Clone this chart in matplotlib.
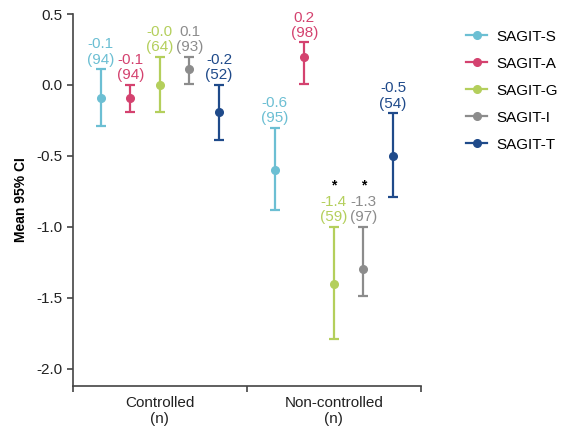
import matplotlib
matplotlib.use("Agg")
from matplotlib import pyplot as plt
from matplotlib.lines import Line2D
import numpy as np

plt.rcParams['font.family'] = ['Liberation Sans', 'DejaVu Sans']

# data
groups = ["Controlled\n(n)", "Non-controlled\n(n)"]
series = ["SAGIT-S", "SAGIT-A", "SAGIT-G", "SAGIT-I", "SAGIT-T"]
colors = ["#6cbfd3", "#d4426f", "#b4cf5c", "#8c8c8c", "#1f4a8a"]

means = [[-0.09, -0.60],
         [-0.09, 0.20],
         [0.00, -1.40],
         [0.11, -1.30],
         [-0.19, -0.50]]
ci_low = [[-0.29, -0.88],
          [-0.19, 0.01],
          [-0.19, -1.79],
          [0.01, -1.49],
          [-0.39, -0.79]]
ci_high = [[0.11, -0.30],
           [0.00, 0.30],
           [0.20, -1.00],
           [0.20, -1.00],
           [0.00, -0.20]]
mean_labels = [["-0.1", "-0.6"],
               ["-0.1", "0.2"],
               ["-0.0", "-1.4"],
               ["0.1", "-1.3"],
               ["-0.2", "-0.5"]]
n_labels = [["94", "95"],
            ["94", "98"],
            ["64", "59"],
            ["93", "97"],
            ["52", "54"]]
significant = [[False, False],
               [False, False],
               [False, True],
               [False, True],
               [False, False]]

offsets = [-0.34, -0.17, 0.0, 0.17, 0.34]

fig = plt.figure(figsize=(5.65, 4.38), dpi=100)
ax = fig.add_axes([0.129, 0.119, 0.616, 0.849])

x = np.arange(len(groups))
handles = []
for i, name in enumerate(series):
    m = np.array(means[i])
    lo = m - np.array(ci_low[i])
    hi = np.array(ci_high[i]) - m
    xs = x + offsets[i]
    ax.errorbar(xs, m, yerr=[lo, hi], fmt='o', color=colors[i], ms=5.5,
                elinewidth=1.6, capsize=3.5, capthick=1.6)
    handles.append(Line2D([], [], color=colors[i], marker='o', ms=5.5, lw=1.6))
    for j in range(len(groups)):
        ax.annotate(mean_labels[i][j] + "\n(" + n_labels[i][j] + ")",
                    (xs[j], ci_high[i][j]), xytext=(0, 2),
                    textcoords='offset points', ha='center', va='bottom',
                    fontsize=11, color=colors[i], linespacing=1.1)
        if significant[i][j]:
            ax.annotate("*", (xs[j], ci_high[i][j]), xytext=(0, 27),
                        textcoords='offset points', ha='center', va='baseline',
                        fontsize=10, fontweight='bold', color='black')

ax.set_xlim(-0.5, 1.5)
ax.set_ylim(-2.12, 0.5)
ax.set_yticks([0.5, 0.0, -0.5, -1.0, -1.5, -2.0])
ax.set_yticklabels(["0.5", "0.0", "-0.5", "-1.0", "-1.5", "-2.0"])
ax.set_xticks([-0.5, 0.5, 1.5])
ax.set_xticklabels([])
ax.set_xticks(x, minor=True)
ax.set_xticklabels(groups, minor=True)
ax.tick_params(axis='x', which='minor', length=0, pad=7)
ax.tick_params(axis='both', which='major', length=4, width=1.2,
               color='#444444', labelsize=11, labelcolor='#222222')
ax.tick_params(axis='x', which='minor', labelsize=11, labelcolor='#222222')

for s in ['top', 'right']:
    ax.spines[s].set_visible(False)
for s in ['left', 'bottom']:
    ax.spines[s].set_color('#444444')
    ax.spines[s].set_linewidth(1.2)

ax.set_ylabel("Mean 95% CI", fontsize=10, fontweight='bold', labelpad=6)

ax.legend(handles, series, loc='upper left', bbox_to_anchor=(1.09, 0.995),
          frameon=False, fontsize=11, labelspacing=0.85, handlelength=1.4,
          handletextpad=0.6)

fig.savefig("out.png", dpi=100)
